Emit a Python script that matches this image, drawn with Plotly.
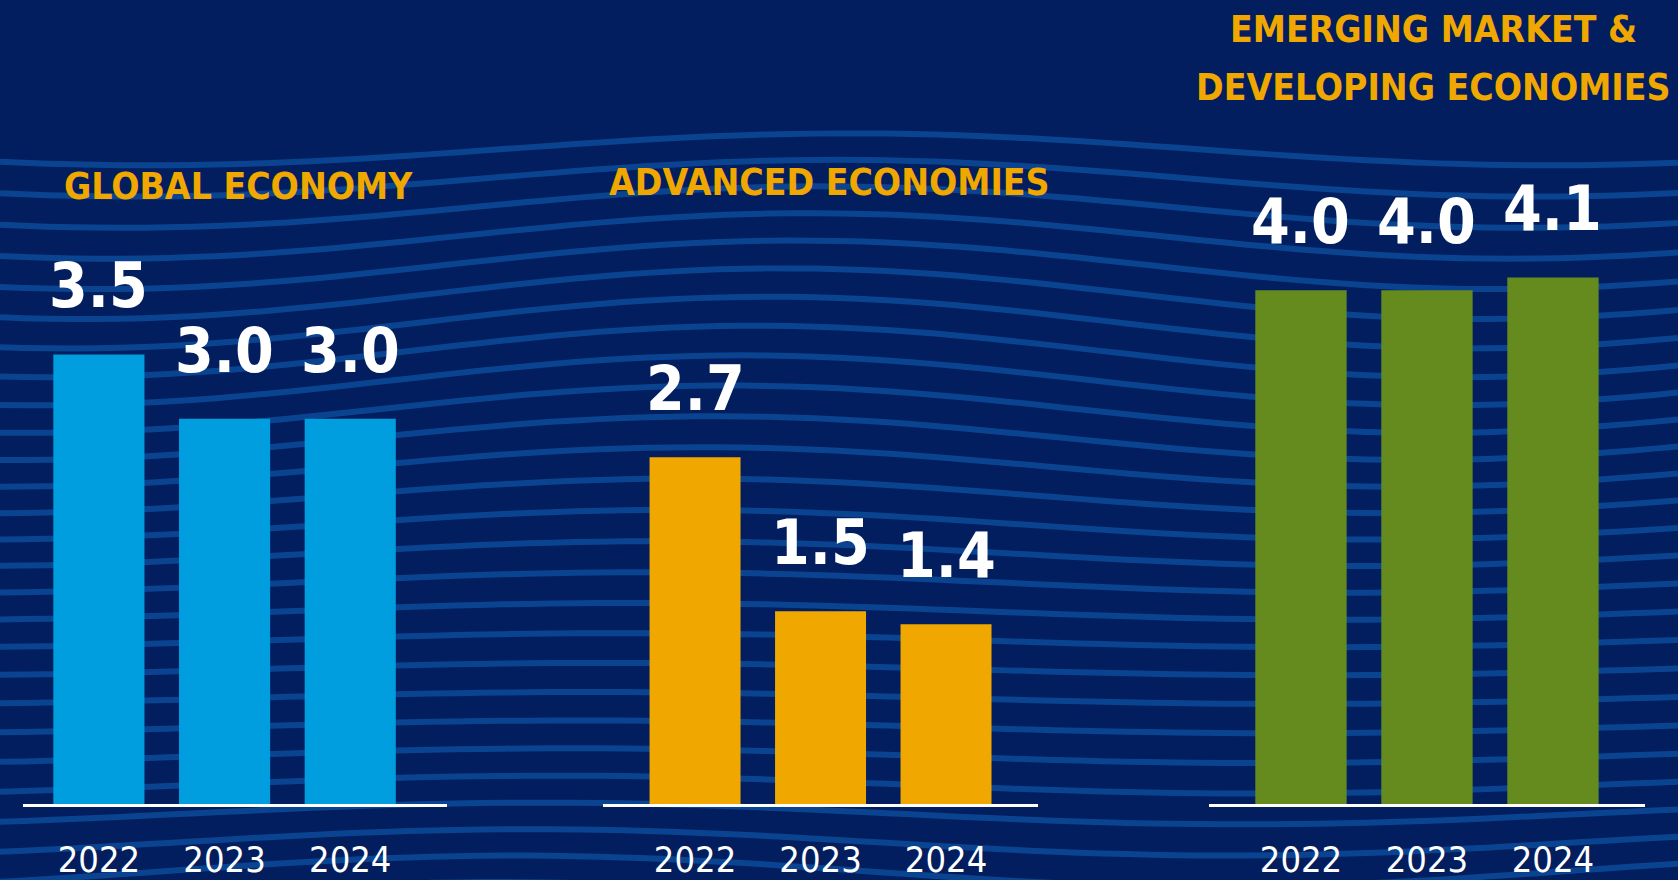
import math

import plotly.graph_objects as go
from plotly.subplots import make_subplots

# growth projections, percent
years = ["2022", "2023", "2024"]
global_growth = [3.5, 3.0, 3.0]
advanced_growth = [2.7, 1.5, 1.4]
emerging_growth = [4.0, 4.0, 4.1]

panel_titles = [
    ["GLOBAL ECONOMY"],
    ["ADVANCED ECONOMIES"],
    ["EMERGING MARKET &", "DEVELOPING ECONOMIES"],
]
bar_colors = ["#009EDE", "#F0A800", "#658A1D"]

BG = "#021E5E"
WAVE = "#0A4490"
GOLD = "#F0A800"
FONT = "DejaVu Sans Condensed, Liberation Sans Narrow, Roboto, sans-serif"

W, H = 1678, 880
BOTTOM = 72.5
PLOT_H = H - BOTTOM


def wave_shapes() -> list:
    # decorative background stripes, only a rough imitation of the poster art
    shapes = []
    n_pts = 70
    for k in range(27):
        y0 = 150 + k * 29
        amp = 16 + 10 * math.sin(k / 4.0)
        phase = 0.9 + k * 0.06
        pts = []
        for p in range(n_pts + 1):
            xpx = W * p / n_pts
            ypx = y0 + amp * math.sin(2 * math.pi * xpx / 1400 + phase)
            xs = xpx / W
            ys = (PLOT_H - ypx) / PLOT_H
            pts.append(f"{xs:.4f},{ys:.4f}")
        shapes.append(dict(
            type="path",
            path="M " + " L ".join(pts),
            xref="paper",
            yref="paper",
            line=dict(color=WAVE, width=6),
            layer="below",
        ))
    return shapes


def growth_panels(series: list, titles: list, colors: list) -> go.Figure:
    fig = make_subplots(rows=1, cols=3, horizontal_spacing=0.05)

    for i, values in enumerate(series):
        fig.add_trace(
            go.Bar(
                x=years,
                y=values,
                marker_color=colors[i],
                marker_line_width=0,
                hoverinfo="skip",
            ),
            row=1,
            col=i + 1,
        )
        for j, v in enumerate(values):
            fig.add_annotation(
                x=j,
                y=v,
                text=f"<b>{v:.1f}</b>",
                showarrow=False,
                xanchor="center",
                yanchor="bottom",
                yshift=30,
                font=dict(family=FONT, size=62, color="white"),
                row=1,
                col=i + 1,
            )

    # x domains and ranges so the white baselines sit where the original has them
    domains = [[0.014, 0.2664], [0.3591, 0.6186], [0.7205, 0.9803]]
    ranges = [[-0.60, 2.77], [-0.737, 2.733], [-0.73, 2.73]]
    for i in range(3):
        fig.update_xaxes(
            type="category",
            domain=domains[i],
            range=ranges[i],
            showline=True,
            linecolor="white",
            linewidth=3,
            showgrid=False,
            zeroline=False,
            ticks="",
            ticklabelstandoff=22,
            tickfont=dict(family=FONT, size=36, color="white"),
            fixedrange=True,
            row=1,
            col=i + 1,
        )
        fig.update_yaxes(
            range=[0, PLOT_H / 129],
            visible=False,
            showgrid=False,
            fixedrange=True,
            row=1,
            col=i + 1,
        )

    # title lines: (x centre, y centre in px from top)
    title_pos = [
        [(0.1424, 187)],
        [(0.4946, 183)],
        [(0.854, 30), (0.854, 88)],
    ]
    for lines, positions in zip(titles, title_pos):
        for line, (tx, typx) in zip(lines, positions):
            fig.add_annotation(
                x=tx,
                y=(PLOT_H - typx) / PLOT_H,
                xref="paper",
                yref="paper",
                xanchor="center",
                yanchor="middle",
                text=f"<b>{line}</b>",
                showarrow=False,
                font=dict(family=FONT, size=37, color=GOLD),
            )

    fig.update_layout(
        width=W,
        height=H,
        margin=dict(l=0, r=0, t=0, b=BOTTOM),
        paper_bgcolor=BG,
        plot_bgcolor="rgba(0,0,0,0)",
        showlegend=False,
        bargap=0.275,
        shapes=wave_shapes(),
    )
    return fig


fig = growth_panels([global_growth, advanced_growth, emerging_growth], panel_titles, bar_colors)
fig.write_html(
    "out.html",
    config={"displayModeBar": False},
    post_script="document.body.style.margin='0';document.body.style.overflow='hidden';",
)
